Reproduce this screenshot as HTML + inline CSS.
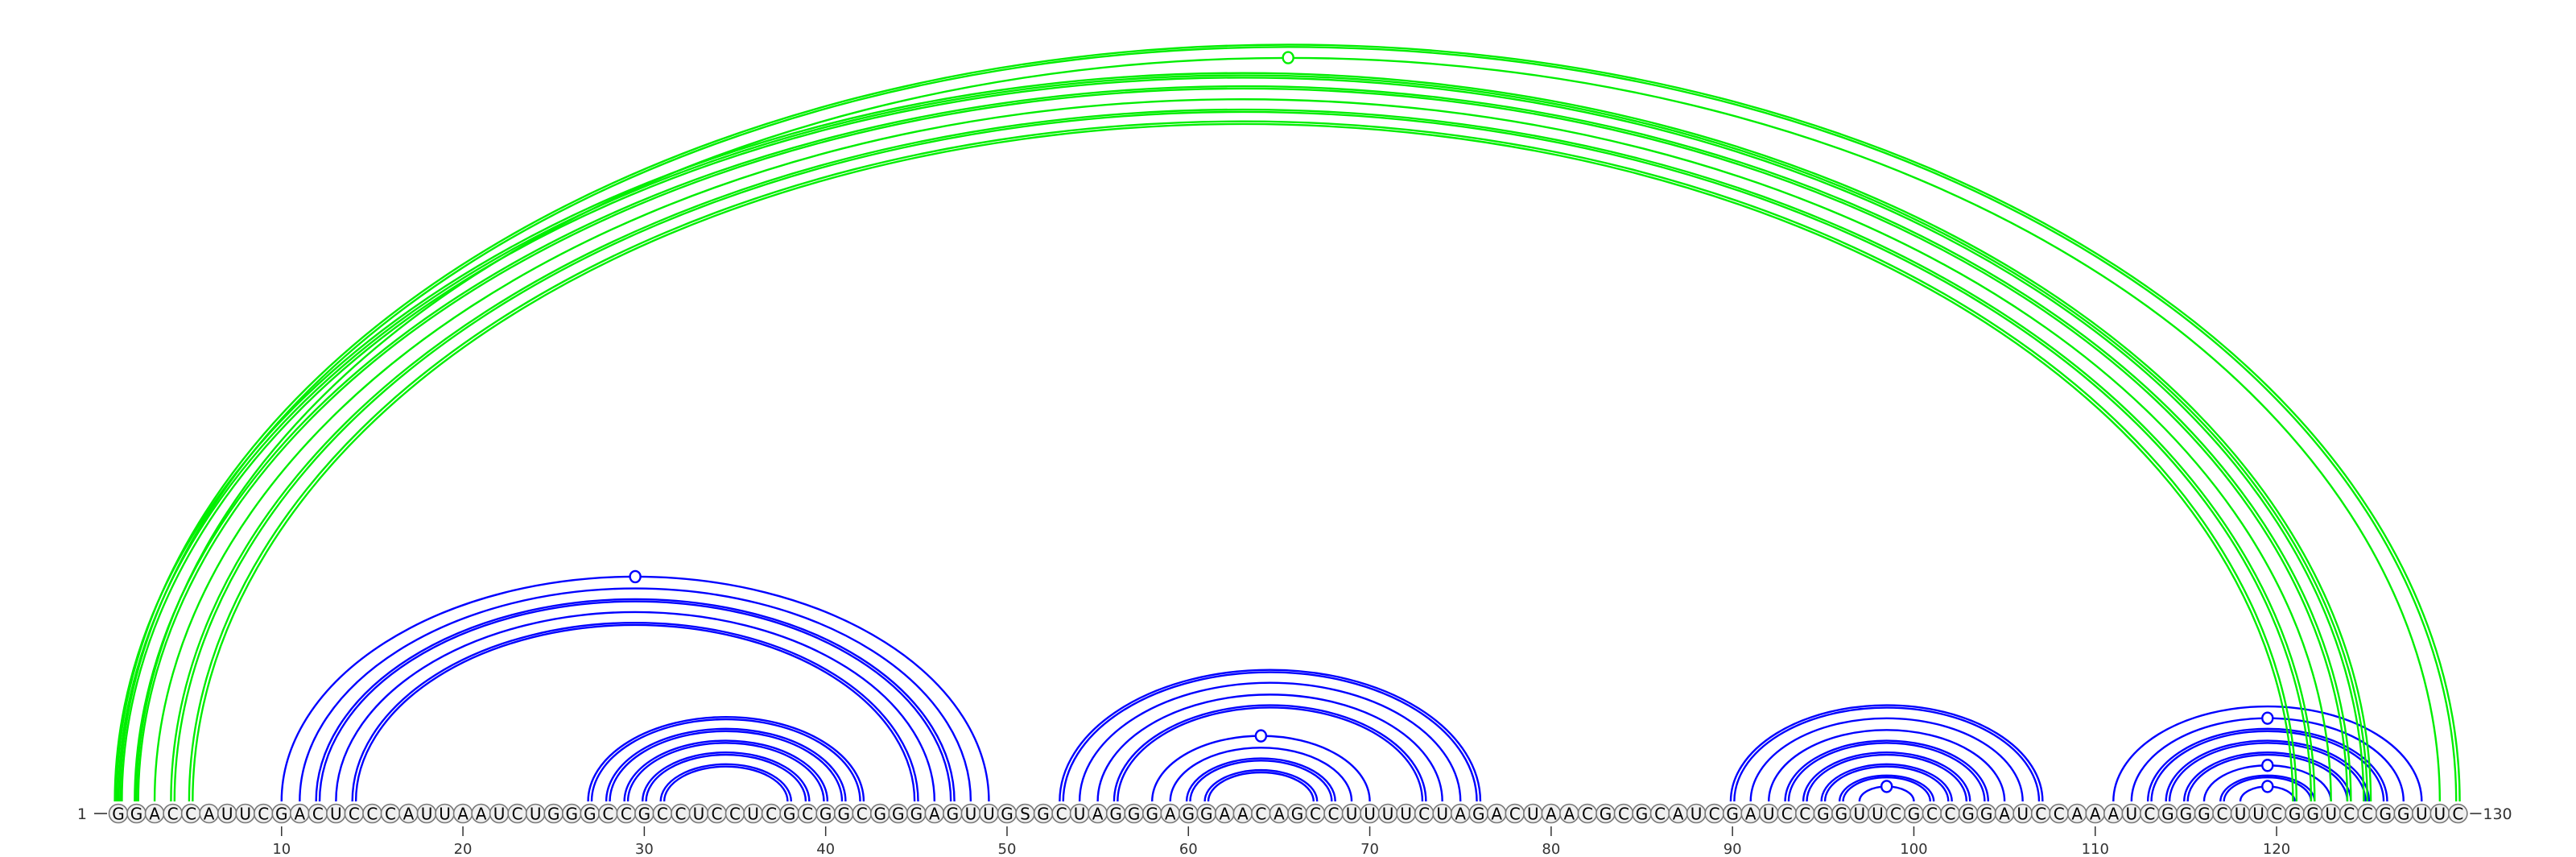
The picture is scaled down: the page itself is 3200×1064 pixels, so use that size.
<!DOCTYPE html>
<html><head><meta charset="utf-8">
<style>
html,body{margin:0;padding:0;background:#fff;}
svg{display:block;}
</style></head>
<body>
<svg id="chart" width="3200" height="1064" viewBox="0 0 3200 1064" xmlns="http://www.w3.org/2000/svg"></svg>
<script>
const sequence = "GGACCAUUCGACUCCCAUUAAUCUGGGCCGCCUCCUCGCGGCGGGAGUUGSGCUAGGGAGGAACAGCCUUUUCUAGACUAACGCGCAUCGAUCCGGUUCGCCGGAUCCAAAUCGGGCUUCGGUCCGGUUC";
const tickPositions = [10,20,30,40,50,60,70,80,90,100,110,120];
// blue pairs: [i, j, number of overlapping lines, marker]
const bluePairs = [
  [10,49,1,1],[11,48,1,0],[12,47,2,0],[13,46,1,0],[14,45,2,0],
  [27,42,2,0],[28,41,2,0],[29,40,2,0],[30,39,2,0],[31,38,2,0],
  [53,76,2,0],[54,75,1,0],[55,74,1,0],[56,73,2,0],[58,70,1,1],[59,69,1,0],[60,68,2,0],[61,67,2,0],
  [90,107,2,0],[91,106,1,0],[92,105,1,0],[93,104,2,0],[94,103,2,0],[95,102,2,0],[96,101,2,0],[97,100,1,1],
  [111,128,1,0],[112,127,1,1],[113,126,2,0],[114,125,2,0],[115,124,2,0],[116,123,1,1],[117,122,2,0],[118,121,1,1]
];
const greenPairs = [
  [1,130,2,0],[2,129,1,1],[1,125,3,0],[2,124,2,0],[3,123,1,0],[4,122,2,0],[5,121,2,0]
];

const svg = document.getElementById('chart');
const NS = "http://www.w3.org/2000/svg";
const X0 = 147, DX = 22.53, BASE = 1010, ARCY = 995;
function xPos(i){ return X0 + (i-1)*DX; }
function ryOf(rx){ return Math.max(0.65*rx - 6.5, 0.55*rx); }
function mk(tag, attrs){ const e=document.createElementNS(NS,tag); for(const k in attrs) e.setAttribute(k,attrs[k]); return e; }

const gArcs = mk('g',{});


svg.appendChild(gArcs);

function drawPairs(pairs, color, name){
  pairs.forEach(p=>{
    const [i,j,n,m] = p;
    const x1 = xPos(i), x2 = xPos(j);
    const cx = (x1+x2)/2, rx = (x2-x1)/2;
    for(let k=0;k<n;k++){
      const d = (k-(n-1)/2)*4.4;
      const r = rx + d, ry = ryOf(r);
      const path = mk('path',{d:`M ${cx-r} ${ARCY} A ${r} ${ry} 0 0 1 ${cx+r} ${ARCY}`, fill:'none', stroke:color, 'stroke-width':2.4});
      
      
      gArcs.appendChild(path);
    }
    if(m){
      const ry = ryOf(rx);
      const c = mk('ellipse',{cx:cx, cy:ARCY-ry, rx:6.5, ry:7, fill:'#fff', stroke:color, 'stroke-width':2.4});
      
      
      gArcs.appendChild(c);
    }
  });
}
drawPairs(bluePairs,'#0000ff','blue-pair');
drawPairs(greenPairs,'#00ee00','green-pair');

const gSeq = mk('g',{});


svg.appendChild(gSeq);
for(let i=1;i<=sequence.length;i++){
  const x = xPos(i);
  const c = mk('circle',{cx:x, cy:BASE, r:11.5, fill:'#f0f0f0', stroke:'#777', 'stroke-width':1.6});
  
  
  gSeq.appendChild(c);
  const t = mk('text',{x:x, y:BASE+7.5, 'text-anchor':'middle', 'font-family':'"DejaVu Sans", "Liberation Sans", sans-serif', 'font-size':20, fill:'#000'});
  t.textContent = sequence[i-1];
  
  
  gSeq.appendChild(t);
}

const gAxis = mk('g',{});


svg.appendChild(gAxis);
tickPositions.forEach(p=>{
  const x = xPos(p);
  const l = mk('line',{x1:x, x2:x, y1:1026, y2:1038, stroke:'#333', 'stroke-width':1.5});
  
  
  gAxis.appendChild(l);
  const t = mk('text',{x:x, y:1060, 'text-anchor':'middle', 'font-family':'"DejaVu Sans", "Liberation Sans", sans-serif', 'font-size':18, fill:'#333'});
  t.textContent = p;
  
  
  gAxis.appendChild(t);
});
const startLbl = mk('text',{x:108, y:1017, 'text-anchor':'end', 'font-family':'"DejaVu Sans", "Liberation Sans", sans-serif', 'font-size':19, fill:'#333'});
startLbl.textContent = '1';


svg.appendChild(startLbl);
const startDash = mk('line',{x1:117, x2:133, y1:1010, y2:1010, stroke:'#333', 'stroke-width':1.6});


svg.appendChild(startDash);
const endX = xPos(sequence.length);
const endDash = mk('line',{x1:endX+15, x2:endX+29, y1:1010, y2:1010, stroke:'#333', 'stroke-width':1.6});


svg.appendChild(endDash);
const endLbl = mk('text',{x:endX+31, y:1017, 'font-family':'"DejaVu Sans", "Liberation Sans", sans-serif', 'font-size':19, fill:'#333'});
endLbl.textContent = sequence.length;


svg.appendChild(endLbl);
</script>
</body></html>
